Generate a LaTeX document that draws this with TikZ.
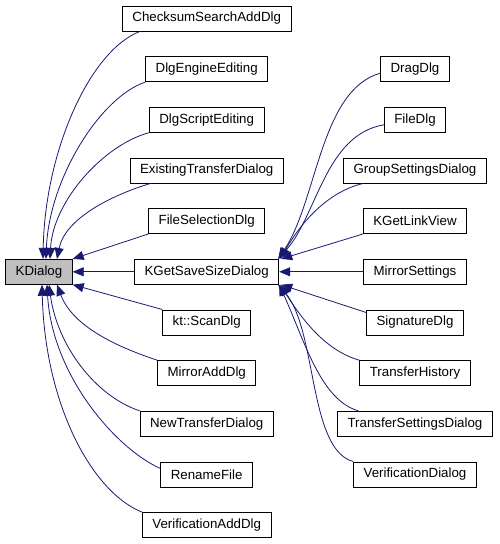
\documentclass[tikz,border=0pt]{standalone}
\usepackage{fontspec}
\setmainfont{Liberation Sans}
\usepackage{xcolor}
\definecolor{edgeBlue}{HTML}{191970}
\definecolor{baseGray}{HTML}{BFBFBF}
\usepackage{tikz}
\usetikzlibrary{arrows.meta}

\tikzset{
  cls/.style={draw=black, line width=0.8pt, fill=white, font=\fontsize{13.3}{16}\selectfont,
    minimum height=25pt, inner xsep=10pt, inner ysep=0pt},
  basecls/.style={cls, fill=baseGray},
  edge/.style={<-, draw=edgeBlue, line width=0.8pt}
}

\begin{document}
\begin{tikzpicture}[x=1pt, y=1pt, >={Triangle[length=11pt,width=9pt]}]
  \useasboundingbox (0,0) rectangle (499,-544);
  % base class
  \node[basecls] (kdialog) at (39,-271.8) {KDialog};
  % direct subclasses
  \node[cls] (checksum) at (206.7,-18.5) {ChecksumSearchAddDlg};
  \node[cls] (engine) at (206.7,-69.2) {DlgEngineEditing};
  \node[cls] (script) at (206.7,-119.8) {DlgScriptEditing};
  \node[cls] (existing) at (206.7,-170.5) {ExistingTransferDialog};
  \node[cls] (filesel) at (206.7,-221.1) {FileSelectionDlg};
  \node[cls] (gss) at (206.7,-271.8) {KGetSaveSizeDialog};
  \node[cls] (scan) at (206.7,-322.4) {kt::ScanDlg};
  \node[cls] (mirroradd) at (206.7,-373.1) {MirrorAddDlg};
  \node[cls] (newtransfer) at (206.7,-423.7) {NewTransferDialog};
  \node[cls] (rename) at (206.7,-474.4) {RenameFile};
  \node[cls] (verifadd) at (206.7,-525) {VerificationAddDlg};
  % subclasses of KGetSaveSizeDialog
  \node[cls] (drag) at (415,-69.2) {DragDlg};
  \node[cls] (filedlg) at (415,-119.8) {FileDlg};
  \node[cls] (groupset) at (415,-170.5) {GroupSettingsDialog};
  \node[cls] (linkview) at (415,-221.1) {KGetLinkView};
  \node[cls] (mirrorset) at (415,-271.8) {MirrorSettings};
  \node[cls] (signature) at (415,-322.4) {SignatureDlg};
  \node[cls] (history) at (415,-373.1) {TransferHistory};
  \node[cls] (transset) at (415,-423.7) {TransferSettingsDialog};
  \node[cls] (verifdlg) at (415,-474.4) {VerificationDialog};
  % edges into KDialog, upper half
  \draw[edge] ([xshift=4pt]kdialog.north) .. controls +(2,108) and +(-50,-19) .. ([xshift=18pt]checksum.south west);
  \draw[edge] ([xshift=7pt]kdialog.north) .. controls +(3,80) and +(-45,-15) .. (engine.south west);
  \draw[edge] ([xshift=11pt]kdialog.north) .. controls +(3,58) and +(-45,-12) .. (script.south west);
  \draw[edge] ([xshift=18pt]kdialog.north) .. controls +(8,40) and +(-40,-12) .. ([xshift=21pt]existing.south west);
  \draw[edge] (kdialog.north east) -- (filesel.south west);
  \draw[edge] (kdialog.east) -- (gss.west);
  % edges into KDialog, lower half
  \draw[edge] (kdialog.south east) -- (scan.north west);
  \draw[edge] ([xshift=18pt]kdialog.south) .. controls +(15,-40) and +(-45,15) .. (mirroradd.north west);
  \draw[edge] ([xshift=10pt]kdialog.south) .. controls +(8,-60) and +(-45,15) .. (newtransfer.north west);
  \draw[edge] ([xshift=8pt]kdialog.south) .. controls +(5,-90) and +(-45,20) .. ([yshift=-7pt]rename.north west);
  \draw[edge] ([xshift=3pt]kdialog.south) .. controls +(3,-120) and +(-50,20) .. (verifadd.north west);
  % edges into KGetSaveSizeDialog
  \draw[edge] ([xshift=-1pt]gss.north east) .. controls +(39,58) and +(-60,-17) .. ([yshift=-4pt]drag.west);
  \draw[edge] ([xshift=-1pt]gss.north east) .. controls +(39,43) and +(-59,-10) .. ([yshift=-5pt]filedlg.west);
  \draw[edge] ([xshift=1pt]gss.north east) .. controls +(19,33) and +(-38,-9) .. ([xshift=20pt]groupset.south west);
  \draw[edge] ([xshift=2pt]gss.north east) -- (linkview.south west);
  \draw[edge] (gss.east) -- (mirrorset.west);
  \draw[edge] ([xshift=2pt]gss.south east) -- ([yshift=-3pt]signature.north west);
  \draw[edge] ([xshift=1pt]gss.south east) .. controls +(19,-30) and +(-36,10) .. (history.north west);
  \draw[edge] (gss.south east) .. controls +(25,-55) and +(-38,11) .. ([xshift=21pt]transset.north west);
  \draw[edge] ([xshift=-1pt]gss.south east) .. controls +(39,-45) and +(-45,12) .. (verifdlg.north west);
\end{tikzpicture}
\end{document}
